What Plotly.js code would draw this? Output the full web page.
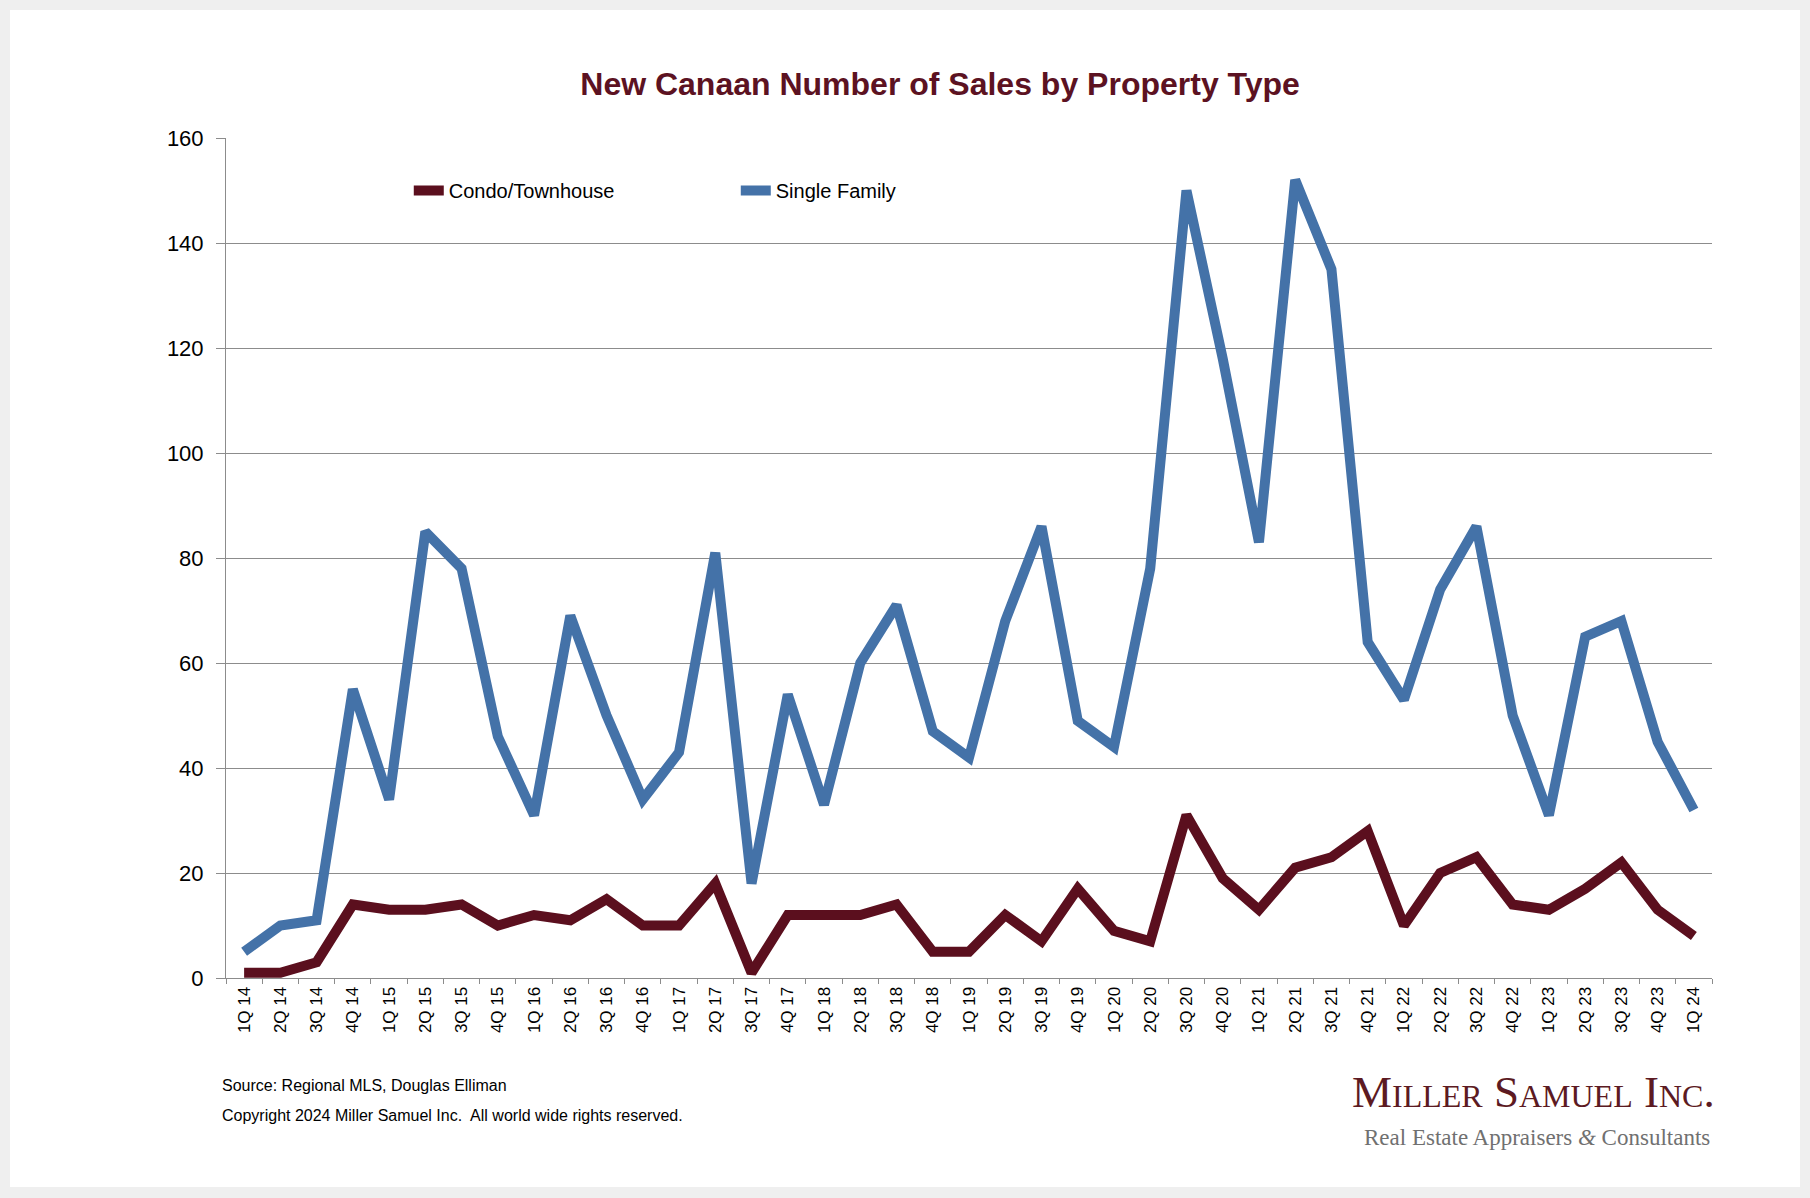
<!DOCTYPE html>
<html>
<head>
<meta charset="utf-8">
<script src="https://cdn.plot.ly/plotly-3.0.1.min.js"></script>
<style>
  html, body { margin: 0; padding: 0; background: #efefef; }
  #chart { position: absolute; left: 10px; top: 10px; width: 1790px; height: 1177px; background: #fff; }
</style>
</head>
<body>
<div id="chart"></div>
<script>
const quarters = [
  '1Q 14', '2Q 14', '3Q 14', '4Q 14',
  '1Q 15', '2Q 15', '3Q 15', '4Q 15',
  '1Q 16', '2Q 16', '3Q 16', '4Q 16',
  '1Q 17', '2Q 17', '3Q 17', '4Q 17',
  '1Q 18', '2Q 18', '3Q 18', '4Q 18',
  '1Q 19', '2Q 19', '3Q 19', '4Q 19',
  '1Q 20', '2Q 20', '3Q 20', '4Q 20',
  '1Q 21', '2Q 21', '3Q 21', '4Q 21',
  '1Q 22', '2Q 22', '3Q 22', '4Q 22',
  '1Q 23', '2Q 23', '3Q 23', '4Q 23',
  '1Q 24',
];

const condo = [
  1, 1, 3, 14,
  13, 13, 14, 10,
  12, 11, 15, 10,
  10, 18, 1, 12,
  12, 12, 14, 5,
  5, 12, 7, 17,
  9, 7, 31, 19,
  13, 21, 23, 28,
  10, 20, 23, 14,
  13, 17, 22, 13,
  8,
];

const singleFamily = [
  5, 10, 11, 55,
  34, 85, 78, 46,
  31, 69, 50, 34,
  43, 81, 18, 54,
  33, 60, 71, 47,
  42, 68, 86, 49,
  44, 78, 150, 118,
  83, 152, 135, 64,
  53, 74, 86, 50,
  31, 65, 68, 45,
  32,
];

const yTicks = [0, 20, 40, 60, 80, 100, 120, 140, 160];

const maroon = '#5b0f1e';
const blue = '#4472a8';
const gridGray = '#8c8c8c';

Plotly.newPlot('chart', [{
  x: quarters,
  y: condo,
  name: 'Condo/Townhouse',
  type: 'scatter',
  mode: 'lines',
  line: {color: maroon, width: 10},
}, {
  x: quarters,
  y: singleFamily,
  name: 'Single Family',
  type: 'scatter',
  mode: 'lines',
  line: {color: blue, width: 10},
}], {
  width: 1790,
  height: 1177,
  margin: {l: 216, r: 88, t: 128, b: 209},
  paper_bgcolor: '#ffffff',
  plot_bgcolor: '#ffffff',
  font: {family: 'Liberation Sans, Arial, sans-serif', color: '#000000'},
  title: {
    text: '<b>New Canaan Number of Sales by Property Type</b>',
    font: {size: 32, color: '#5c1222'},
    xref: 'container',
    x: 0.5196,
    xanchor: 'center',
    yref: 'container',
    y: 0.937,
    yanchor: 'middle',
  },
  xaxis: {
    type: 'category',
    range: [-0.5, 40.5],
    showgrid: false,
    showline: true,
    linecolor: gridGray,
    linewidth: 1,
    ticks: 'outside',
    tickson: 'boundaries',
    ticklen: 5,
    tickcolor: gridGray,
    tickangle: -90,
    tickfont: {size: 17},
    ticklabelstandoff: 1,
    zeroline: false,
  },
  yaxis: {
    range: [0, 160],
    tickvals: yTicks,
    showgrid: true,
    gridcolor: gridGray,
    gridwidth: 1,
    showline: true,
    linecolor: gridGray,
    linewidth: 1,
    ticks: 'outside',
    ticklen: 9,
    tickcolor: gridGray,
    tickfont: {size: 22},
    ticklabelstandoff: 8,
    zeroline: false,
  },
  showlegend: true,
  legend: {
    orientation: 'h',
    x: 0.123,
    xanchor: 'left',
    y: 0.9374,
    yanchor: 'middle',
    bgcolor: 'rgba(0,0,0,0)',
    font: {size: 20},
    entrywidth: 282,
  },
  annotations: [{
    text: 'Source: Regional MLS, Douglas Elliman',
    xref: 'paper', yref: 'paper',
    x: -0.004, y: -0.128,
    xanchor: 'left', yanchor: 'middle',
    showarrow: false,
    font: {size: 16},
  }, {
    text: 'Copyright 2024 Miller Samuel Inc.  All world wide rights reserved.',
    xref: 'paper', yref: 'paper',
    x: -0.004, y: -0.164,
    xanchor: 'left', yanchor: 'middle',
    showarrow: false,
    font: {size: 16},
  }, {
    text: 'Miller Samuel Inc.',
    xref: 'paper', yref: 'paper',
    x: 1.0034, y: -0.136,
    xanchor: 'right', yanchor: 'middle',
    showarrow: false,
    font: {family: 'Liberation Serif, Times New Roman, serif', size: 45, color: '#5c1a22', variant: 'small-caps'},
  }, {
    text: 'Real Estate Appraisers <i>&amp;</i> Consultants',
    xref: 'paper', yref: 'paper',
    x: 1.0, y: -0.19,
    xanchor: 'right', yanchor: 'middle',
    showarrow: false,
    font: {family: 'Liberation Serif, Times New Roman, serif', size: 23, color: '#707070'},
  }],
}, {displayModeBar: false});
</script>
</body>
</html>
